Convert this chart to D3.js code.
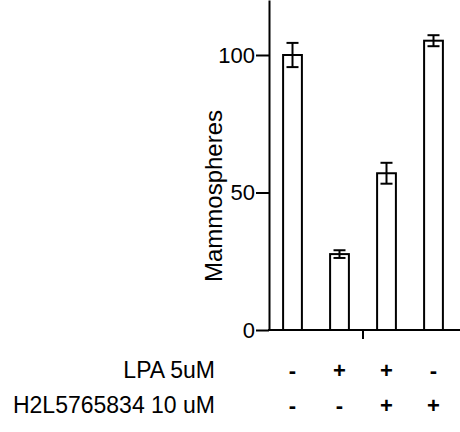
<!DOCTYPE html>
<html>
<head>
<meta charset="utf-8">
<script src="https://cdn.jsdelivr.net/npm/d3@7"></script>
<style>
  body { margin: 0; background: #fff; }
  svg { display: block; font-family: "Liberation Sans", Arial, sans-serif; }
</style>
</head>
<body>
<div id="chart"></div>
<script>
const groups = ["g1", "g2", "g3", "g4"];
const mammospheres = [100, 27.6, 57, 105.2];
const sem = [4.4, 1.4, 3.8, 2];
const lpa = ["-", "+", "+", "-"];
const h2l = ["-", "-", "+", "+"];
const rowLabels = ["LPA 5uM", "H2L5765834 10 uM"];
const yTicks = [0, 50, 100];

let width = 460;
let height = 432;

let margin = ({
  top: 0,
  left: 269,
  bottom: 330
});

let x = d3.scaleBand()
  .domain(groups)
  .range([margin.left, 457])
  .paddingInner(0.6)
  .paddingOuter(0.3);

let y = d3.scaleLinear()
  .domain([0, 120])
  .range([margin.bottom, margin.top]);

const svg = d3.select("#chart").append("svg")
  .attr("width", width)
  .attr("height", height);

// bars
svg.append("g")
  .selectAll("rect")
  .data(groups)
  .enter().append("rect")
  .attr("x", d => x(d))
  .attr("y", (d, i) => y(mammospheres[i]))
  .attr("width", x.bandwidth())
  .attr("height", (d, i) => y(0) - y(mammospheres[i]))
  .attr("fill", "#fff")
  .attr("stroke", "#000")
  .attr("stroke-width", 2);

// error bars
const err = svg.append("g")
  .attr("stroke", "#000")
  .attr("stroke-width", 2)
  .selectAll("g")
  .data(groups)
  .enter().append("g");

err.append("line")
  .attr("x1", d => x(d) + x.bandwidth() / 2)
  .attr("x2", d => x(d) + x.bandwidth() / 2)
  .attr("y1", (d, i) => y(mammospheres[i] - sem[i]))
  .attr("y2", (d, i) => y(mammospheres[i] + sem[i]));

[-1, 1].forEach(s => {
  err.append("line")
    .attr("x1", d => x(d) + x.bandwidth() / 2 - 6)
    .attr("x2", d => x(d) + x.bandwidth() / 2 + 6)
    .attr("y1", (d, i) => y(mammospheres[i] + s * sem[i]))
    .attr("y2", (d, i) => y(mammospheres[i] + s * sem[i]));
});

// y axis
const gy = svg.append("g")
  .attr("transform", `translate(${margin.left},0)`)
  .call(d3.axisLeft(y)
    .tickValues(yTicks)
    .tickSize(13)
    .tickSizeOuter(0)
    .tickPadding(1));

gy.selectAll("path, line").attr("stroke-width", 2).attr("stroke", "#000");
gy.selectAll("text")
  .attr("font-size", 22)
  .attr("font-family", "Liberation Sans, Arial, sans-serif")
  .attr("fill", "#000");

// x axis, one tick in the middle of the bars
const mid = (x(groups[1]) + x(groups[2]) + x.bandwidth()) / 2;
const gx = svg.append("g")
  .attr("stroke", "#000")
  .attr("stroke-width", 2);

gx.append("line")
  .attr("x1", margin.left - 1)
  .attr("x2", width)
  .attr("y1", y(0))
  .attr("y2", y(0));

gx.append("line")
  .attr("x1", mid)
  .attr("x2", mid)
  .attr("y1", y(0))
  .attr("y2", y(0) + 9);

// axis title
svg.append("text")
  .attr("transform", `translate(222,${(y(0) + y(120)) / 2 + 31}) rotate(-90)`)
  .attr("text-anchor", "middle")
  .attr("font-size", 24)
  .text("Mammospheres");

// treatment table
const rows = [lpa, h2l];
const rowY = [378, 413];

rows.forEach((row, r) => {
  svg.append("text")
    .attr("x", 215)
    .attr("y", rowY[r])
    .attr("text-anchor", "end")
    .attr("font-size", 23)
    .text(rowLabels[r]);

  svg.append("g")
    .selectAll("text")
    .data(row)
    .enter().append("text")
    .attr("x", (d, i) => x(groups[i]) + x.bandwidth() / 2)
    .attr("y", rowY[r])
    .attr("text-anchor", "middle")
    .attr("font-size", 22)
    .attr("font-weight", "bold")
    .text(d => d);
});
</script>
</body>
</html>
